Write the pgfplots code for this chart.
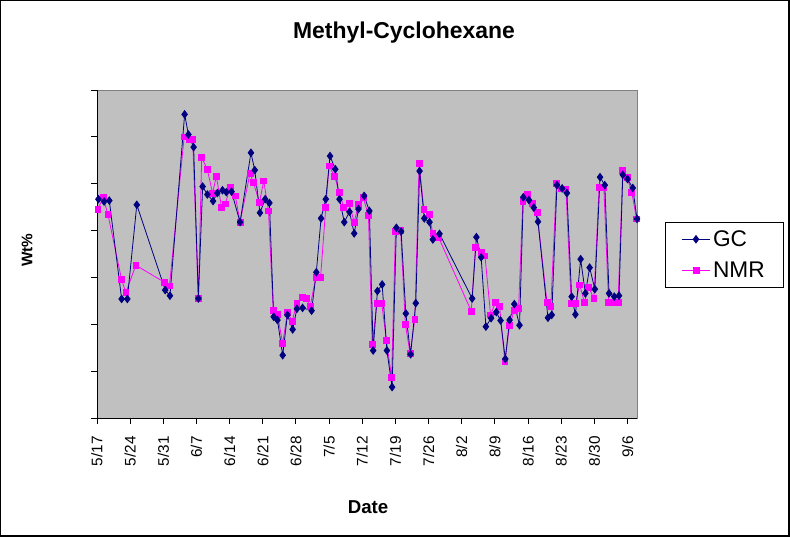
\documentclass[border=0pt]{standalone}
\usepackage{pgfplots}
\pgfplotsset{compat=1.18}
\usepackage{pgfplotstable}
\usepackage{fontspec}
\setmainfont{Liberation Sans}
\definecolor{plotgray}{HTML}{C0C0C0}
\definecolor{bordergray}{HTML}{808080}
\definecolor{gcnavy}{HTML}{000080}
\definecolor{nmrmag}{HTML}{FF00FF}

\pgfplotstableread{
day wt
0.3 4.67
1.5 4.62
2.6 4.64
5.2 2.54
6.4 2.54
8.4 4.55
14.4 2.73
15.4 2.61
18.5 6.48
19.3 6.05
20.4 5.78
21.4 2.55
22.3 4.94
23.3 4.77
24.5 4.63
25.4 4.80
26.5 4.86
27.3 4.82
28.4 4.83
30.2 4.18
32.5 5.66
33.3 5.29
34.4 4.38
35.5 4.67
36.4 4.59
37.3 2.16
38.1 2.09
39.2 1.34
40.2 2.20
41.3 1.89
42.2 2.33
43.4 2.35
45.3 2.29
46.3 3.11
47.3 4.26
48.3 4.67
49.2 5.59
50.3 5.31
51.2 4.67
52.2 4.18
53.3 4.40
54.3 3.94
55.2 4.46
56.4 4.74
57.5 4.42
58.3 1.44
59.2 2.71
60.2 2.85
61.2 1.44
62.3 0.66
63.2 4.06
64.2 3.98
65.2 2.23
66.2 1.36
67.3 2.45
68.1 5.27
69.1 4.26
70.2 4.18
70.9 3.81
72.3 3.93
79.2 2.55
80.1 3.86
81.1 3.43
82.1 1.95
83.2 2.13
84.3 2.26
85.2 2.08
86.2 1.26
87.1 2.09
88.1 2.43
89.2 1.98
90.0 4.71
91.2 4.65
92.2 4.49
93.1 4.19
95.2 2.14
96.0 2.20
97.1 4.97
98.2 4.90
99.2 4.80
100.2 2.59
101.0 2.21
102.1 3.39
103.1 2.66
104.0 3.21
105.1 2.75
106.2 5.14
107.2 4.97
108.1 2.66
109.2 2.59
110.2 2.61
111.0 5.19
112.0 5.10
113.1 4.91
114.0 4.25
}\gcdata

\pgfplotstableread{
day wt
0.2 4.46
1.3 4.70
2.3 4.35
5.2 2.95
6.1 2.68
8.2 3.26
14.2 2.90
15.3 2.82
18.4 6.00
19.4 5.95
20.2 5.95
21.4 2.55
22.1 5.56
23.3 5.30
24.4 4.80
25.2 5.16
26.3 4.49
27.1 4.57
28.1 4.93
29.2 4.74
30.2 4.18
32.3 5.22
33.0 5.03
34.3 4.60
35.2 5.06
36.2 4.42
37.2 2.30
38.1 2.21
39.2 1.59
40.2 2.25
41.2 2.07
42.2 2.45
43.3 2.57
44.2 2.55
45.0 2.38
46.2 3.00
47.2 3.00
48.3 4.50
49.0 5.38
50.2 5.15
51.1 4.82
52.1 4.50
53.2 4.58
54.3 4.18
55.2 4.56
56.2 4.70
57.3 4.33
58.1 1.57
59.1 2.45
60.1 2.45
61.1 1.66
62.2 0.86
63.0 3.98
64.1 4.00
65.1 2.00
66.1 1.38
67.1 2.11
68.0 5.44
69.0 4.46
70.1 4.35
70.9 3.94
72.1 3.86
79.0 2.28
79.9 3.64
81.1 3.53
81.9 3.46
83.1 2.20
84.1 2.47
85.0 2.38
86.1 1.20
87.1 1.98
88.1 2.30
89.0 2.34
89.9 4.62
90.9 4.77
92.0 4.58
92.9 4.39
95.0 2.47
95.8 2.38
97.0 5.00
98.1 4.89
99.0 4.88
100.1 2.45
101.0 2.45
101.9 2.84
102.9 2.47
103.8 2.79
104.9 2.55
106.0 4.93
107.0 4.93
108.0 2.47
109.1 2.47
110.0 2.47
111.0 5.28
111.9 5.14
112.9 4.82
113.9 4.25
}\nmrdata

\begin{document}
\begin{tikzpicture}[x=0.75pt,y=0.75pt]
\useasboundingbox (0,0) rectangle (790,537);
\fill[white] (0,0) rectangle (790,537);
\draw[black, line width=0.75pt] (0.5,1.5) rectangle (788.5,536.5);
\draw[black, line width=1.5pt] (789,0) -- (789,537);
\draw[black, line width=1.5pt] (0,1) -- (790,1);
\begin{axis}[
  at={(72.75pt,89.25pt)}, anchor=south west,
  scale only axis, width=405pt, height=246pt,
  xmin=0, xmax=114, ymin=0, ymax=7,
  axis background/.style={fill=plotgray, draw=bordergray, line width=0.75pt},
  axis x line*=bottom, axis y line*=left,
  axis line style={black, line width=0.75pt},
  tick align=outside, major tick length=4.5pt,
  tick style={black, line width=0.75pt},
  xtick={0,7,...,112},
  xticklabels={5/17,5/24,5/31,6/7,6/14,6/21,6/28,7/5,7/12,7/19,7/26,8/2,8/9,8/16,8/23,8/30,9/6},
  x tick label style={rotate=90, anchor=east, font=\fontsize{11.5}{14}\selectfont, inner sep=2pt},
  xticklabel shift=7pt,
  ytick={0,1,...,7},
  yticklabels={,,,,,,,},
  legend style={at={(1.052,0.598)}, anchor=north west, draw=black, fill=white,
    line width=0.75pt, font=\fontsize{17}{20}\selectfont, inner xsep=12pt, inner ysep=4pt,
    row sep=6pt},
  legend cell align=left,
  legend image code/.code={\draw[mark repeat=2,mark phase=2,#1] plot coordinates {(0pt,0pt)(10.5pt,0pt)(21pt,0pt)};},
  reverse legend,
]
\addplot[color=nmrmag, line width=0.6pt, mark=square*, mark size=2.2pt, mark options={fill=nmrmag, draw=nmrmag}] table[x=day,y=wt]{\nmrdata};
\addlegendentry{NMR}
\addplot[color=gcnavy, line width=0.6pt, mark=diamond*, mark size=2.8pt, mark options={fill=gcnavy, draw=gcnavy}] table[x=day,y=wt]{\gcdata};
\addlegendentry{GC}
\end{axis}
\node[font=\bfseries\fontsize{17.2}{20}\selectfont] at (404,504) {Methyl-Cyclohexane};
\node[font=\bfseries\fontsize{14}{16}\selectfont] at (368,30) {Date};
\node[rotate=90, font=\bfseries\fontsize{11.5}{13}\selectfont] at (27,287) {Wt\%};
\end{tikzpicture}
\end{document}
